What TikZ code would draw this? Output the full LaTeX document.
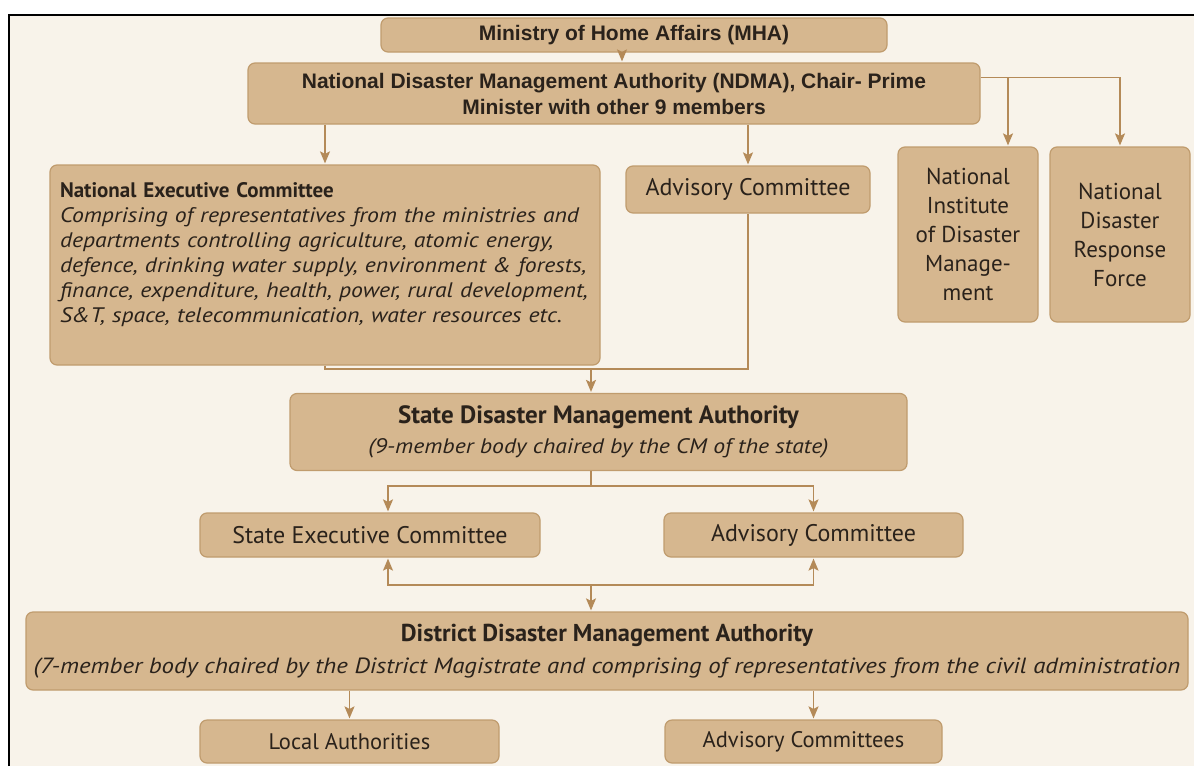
\documentclass[tikz,border=0pt]{standalone}
\usepackage{fontspec}
\setmainfont{PT Sans}
\newfontfamily\headfont{Liberation Sans}
\newfontfamily\notefont{PT Sans}[FakeStretch=1.13]
\usetikzlibrary{positioning,arrows.meta}

\definecolor{paper}{HTML}{F8F3EA}
\definecolor{boxfill}{HTML}{D6B78F}
\definecolor{boxline}{HTML}{C09C6E}
\definecolor{linkcol}{HTML}{B48A58}
\definecolor{inkcol}{HTML}{2A221B}

\begin{document}
\begin{tikzpicture}[x=1pt, y=-1pt,
        box/.style={draw=boxline, line width=1.2pt, fill=boxfill, rounded corners=7pt, inner sep=0pt, text=inkcol, align=center},
        head/.style={font=\headfont\bfseries\fontsize{21}{26}\selectfont},
        label/.style={font=\fontsize{24}{28}\selectfont},
        small label/.style={font=\fontsize{22.5}{27}\selectfont},
        link/.style={draw=linkcol, line width=1.4pt},
        arrow/.style={link, -{Stealth[length=12pt, width=10pt, inset=2.5pt]}, shorten >=1pt}
    ]
        \useasboundingbox (0,0) rectangle (1194,766);
        \fill[white] (0,0) rectangle (1194,766);
        \fill[paper] (9,15) rectangle (1194,766);
        \draw[line width=2pt] (9,766) -- (9,15) -- (1194,15);

        % National level
        \node[box, head, minimum width=506pt, minimum height=34pt] (mha) at (634,35) {Ministry of Home Affairs (MHA)};
        \node[box, head, minimum width=732pt, minimum height=61pt] (ndma) at (614,93.5) {National Disaster Management Authority (NDMA), Chair- Prime\\Minister with other 9 members};
        \node[box, minimum width=550pt, minimum height=200pt, text width=530pt, align=left, font=\fontsize{21}{25}\selectfont] (nec) at (325,265) {{\bfseries National Executive Committee}\\\notefont\itshape Comprising of representatives from the ministries and\\departments controlling agriculture, atomic energy,\\defence, drinking water supply, environment \& forests,\\finance, expenditure, health, power, rural development,\\S\&T, space, telecommunication, water resources etc.\\\mbox{}};
        \node[box, label, minimum width=244pt, minimum height=47pt] (adv) at (748,189.5) {Advisory Committee};
        \node[box, font=\fontsize{23}{29}\selectfont, minimum width=140pt, minimum height=175pt] (nidm) at (968,234.5) {National\\Institute\\of Disaster\\Manage-\\ment};
        \node[box, font=\fontsize{23}{29}\selectfont, minimum width=140pt, minimum height=175pt] (ndrf) at (1120,234.5) {National\\Disaster\\Response\\Force};

        % State level
        \node[box, font=\fontsize{21}{30}\selectfont, minimum width=617pt, minimum height=77pt] (sdma) at (598.5,432) {{\bfseries\fontsize{25}{30}\selectfont State Disaster Management Authority}\\\notefont\itshape (9-member body chaired by the CM of the state)};
        \node[box, label, minimum width=340pt, minimum height=44pt] (sec) at (370,535) {State Executive Committee};
        \node[box, label, minimum width=299pt, minimum height=44pt] (sadv) at (813.5,535) {Advisory Committee};

        % District level
        \node[box, font=\fontsize{22}{32}\selectfont, minimum width=1162pt, minimum height=78pt] (ddma) at (607,651) {{\bfseries\fontsize{24.4}{32}\selectfont District Disaster Management Authority}\\\notefont\itshape (7-member body chaired by the District Magistrate and comprising of representatives from the civil administration};
        \node[box, small label, minimum width=299pt, minimum height=43pt] (local) at (349.5,741.5) {Local Authorities};
        \node[box, small label, minimum width=277pt, minimum height=43pt] (dadv) at (803.5,741.5) {Advisory Committees};

        % junctions
        \coordinate (natjoin) at (591,369);
        \coordinate (stsplit) at (591,486);
        \coordinate (dsplit) at (591,585);

        \draw[arrow] ([xshift=-12pt]mha.south) -- ([xshift=-12pt]mha.south |- ndma.north);
        \draw[arrow] ([yshift=-15pt]ndma.north east) -| ([xshift=40pt]nidm.north);
        \draw[arrow] ([yshift=-15pt]ndma.north east) -| (ndrf.north);
        \draw[arrow] (ndma.south -| nec.north) -- (nec.north);
        \draw[arrow] (ndma.south -| adv.north) -- (adv.north);
        \draw[link] (nec.south) |- (natjoin) -| (adv.south);
        \draw[arrow] (natjoin) -- (natjoin |- sdma.north);
        \draw[link] (stsplit |- sdma.south) -- (stsplit);
        \draw[arrow] (stsplit) -| ([xshift=18pt]sec.north);
        \draw[arrow] (stsplit) -| (sadv.north);
        \draw[arrow] (dsplit) -| ([xshift=18pt]sec.south);
        \draw[arrow] (dsplit) -| (sadv.south);
        \draw[arrow] (dsplit) -- (dsplit |- ddma.north);
        \draw[arrow] (ddma.south -| local.north) -- (local.north);
        \draw[arrow] ([xshift=10pt]ddma.south -| dadv.north) -- ([xshift=10pt]dadv.north);
    \end{tikzpicture}
\end{document}
